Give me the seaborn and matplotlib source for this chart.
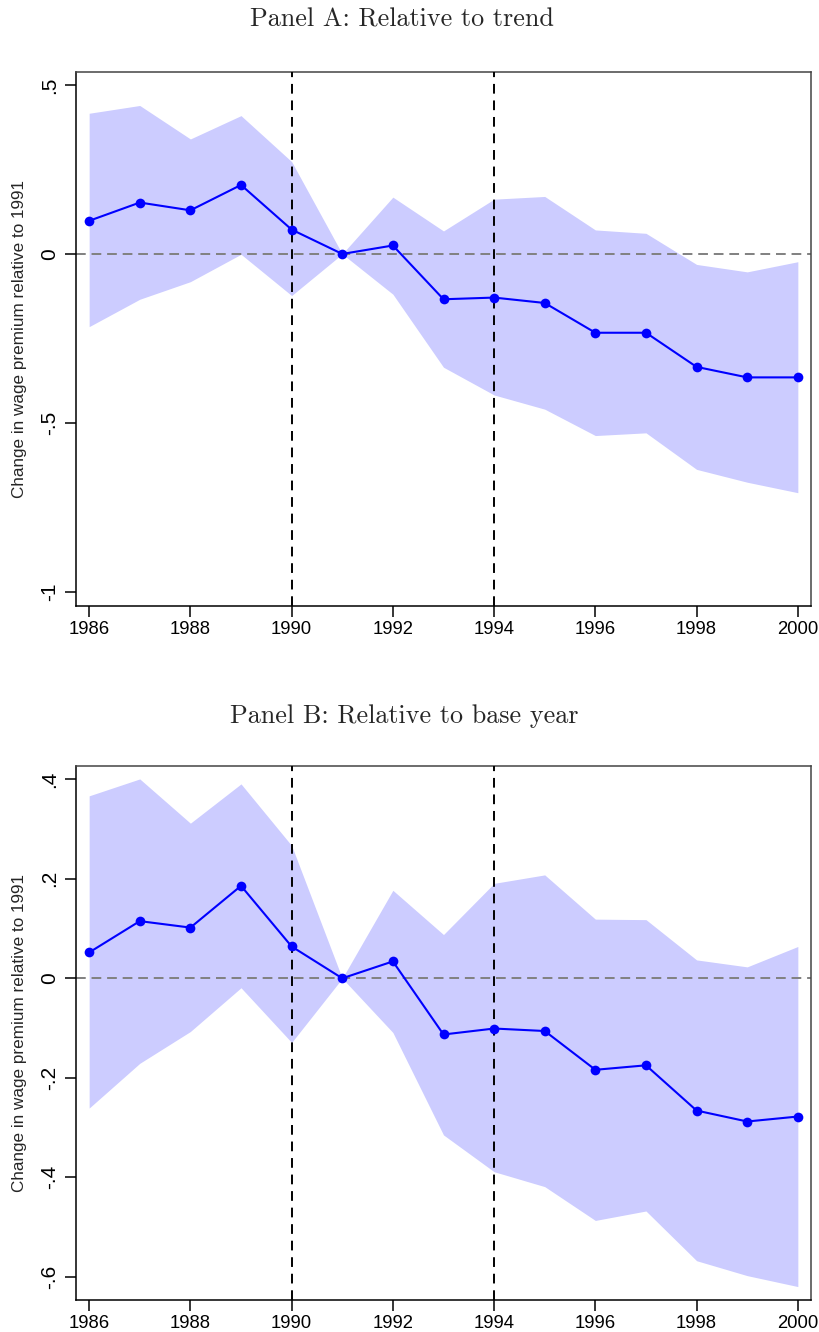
import numpy as np
import pandas as pd
import matplotlib
matplotlib.use("Agg")
import matplotlib.pyplot as plt
import seaborn as sns

years = list(range(1986, 2001))

# Panel A: estimates relative to trend
trend_coef = [0.098, 0.152, 0.129, 0.204, 0.072, 0.0, 0.025, -0.134, -0.129,
              -0.145, -0.233, -0.233, -0.334, -0.365, -0.365]
trend_hi = [0.416, 0.439, 0.340, 0.409, 0.273, 0.0, 0.168, 0.068, 0.162,
            0.170, 0.071, 0.061, -0.031, -0.053, -0.023]
trend_lo = [-0.215, -0.134, -0.082, -0.001, -0.123, 0.0, -0.119, -0.335, -0.417,
            -0.459, -0.537, -0.529, -0.637, -0.675, -0.706]

# Panel B: estimates relative to base year
base_coef = [0.052, 0.115, 0.102, 0.186, 0.064, 0.0, 0.034, -0.113, -0.101,
             -0.106, -0.184, -0.175, -0.266, -0.288, -0.278]
base_hi = [0.367, 0.401, 0.312, 0.391, 0.267, 0.0, 0.177, 0.088, 0.191,
           0.208, 0.119, 0.118, 0.037, 0.023, 0.064]
base_lo = [-0.261, -0.171, -0.107, -0.019, -0.129, 0.0, -0.109, -0.315, -0.389,
           -0.419, -0.487, -0.468, -0.568, -0.598, -0.620]

x_ticks = [1986, 1988, 1990, 1992, 1994, 1996, 1998, 2000]
event_years = [1990, 1994]

trend_yticks = [0.5, 0.0, -0.5, -1.0]
trend_yticklabels = [".5", "0", "-.5", "-1"]
base_yticks = [0.4, 0.2, 0.0, -0.2, -0.4, -0.6]
base_yticklabels = [".4", ".2", "0", "-.2", "-.4", "-.6"]

title_a = "Panel A: Relative to trend"
title_b = "Panel B: Relative to base year"
ylabel = "Change in wage premium relative to 1991"

sns.set_style("ticks")
plt.rcParams["font.family"] = ["Liberation Sans", "DejaVu Sans"]

W, H = 820, 1332
fig = plt.figure(figsize=(W / 100, H / 100), dpi=100)


def px_axes(left, top, right, bottom):
    return fig.add_axes([left / W, 1 - bottom / H, (right - left) / W, (bottom - top) / H])


def draw_panel(ax, coef, lo, hi, ylim, yticks, yticklabels):
    df = pd.DataFrame({"year": years, "coef": coef, "lo": lo, "hi": hi})
    ax.fill_between(df["year"], df["lo"], df["hi"], color="#CCCCFF", lw=0, zorder=1)
    ax.axhline(0, color="#808080", ls=(0, (5, 3)), lw=1.4, zorder=2)
    for yr in event_years:
        ax.axvline(yr, color="black", ls=(0, (5, 3.5)), lw=1.4, zorder=3)
    sns.lineplot(data=df, x="year", y="coef", color="blue", marker="o",
                 markersize=7, markeredgewidth=0, lw=1.5, ax=ax, zorder=4)
    ax.set_xlim(1985.74, 2000.26)
    ax.set_ylim(*ylim)
    ax.set_xticks(x_ticks)
    ax.set_xticklabels([str(t) for t in x_ticks])
    ax.set_yticks(yticks)
    ax.set_yticklabels(yticklabels, rotation=90, va="center")
    ax.set_xlabel("")
    ax.set_ylabel("")
    ax.tick_params(axis="both", length=8, width=1.1, colors="black")
    ax.tick_params(axis="x", pad=3, labelsize=13.3)
    ax.tick_params(axis="y", pad=4, labelsize=15)
    for side, sp in ax.spines.items():
        sp.set_visible(True)
        sp.set_linewidth(1.1)
        sp.set_color("black" if side in ("left", "bottom") else "#444444")


axA = px_axes(76, 72, 811, 606)
draw_panel(axA, trend_coef, trend_lo, trend_hi, (-1.041, 0.538),
           trend_yticks, trend_yticklabels)
axB = px_axes(76, 766, 811, 1300)
draw_panel(axB, base_coef, base_lo, base_hi, (-0.647, 0.427),
           base_yticks, base_yticklabels)

fig.text(402 / W, 1 - 20 / H, title_a, family="cmr10", fontsize=18.8,
         ha="center", va="center")
fig.text(404 / W, 1 - 716 / H, title_b, family="cmr10", fontsize=18.8,
         ha="center", va="center")
fig.text(20 / W, 1 - 339 / H, ylabel, rotation=90, fontsize=12.3,
         ha="center", va="center")
fig.text(20 / W, 1 - 1033 / H, ylabel, rotation=90, fontsize=12.3,
         ha="center", va="center")

fig.savefig("out.png", dpi=100)
